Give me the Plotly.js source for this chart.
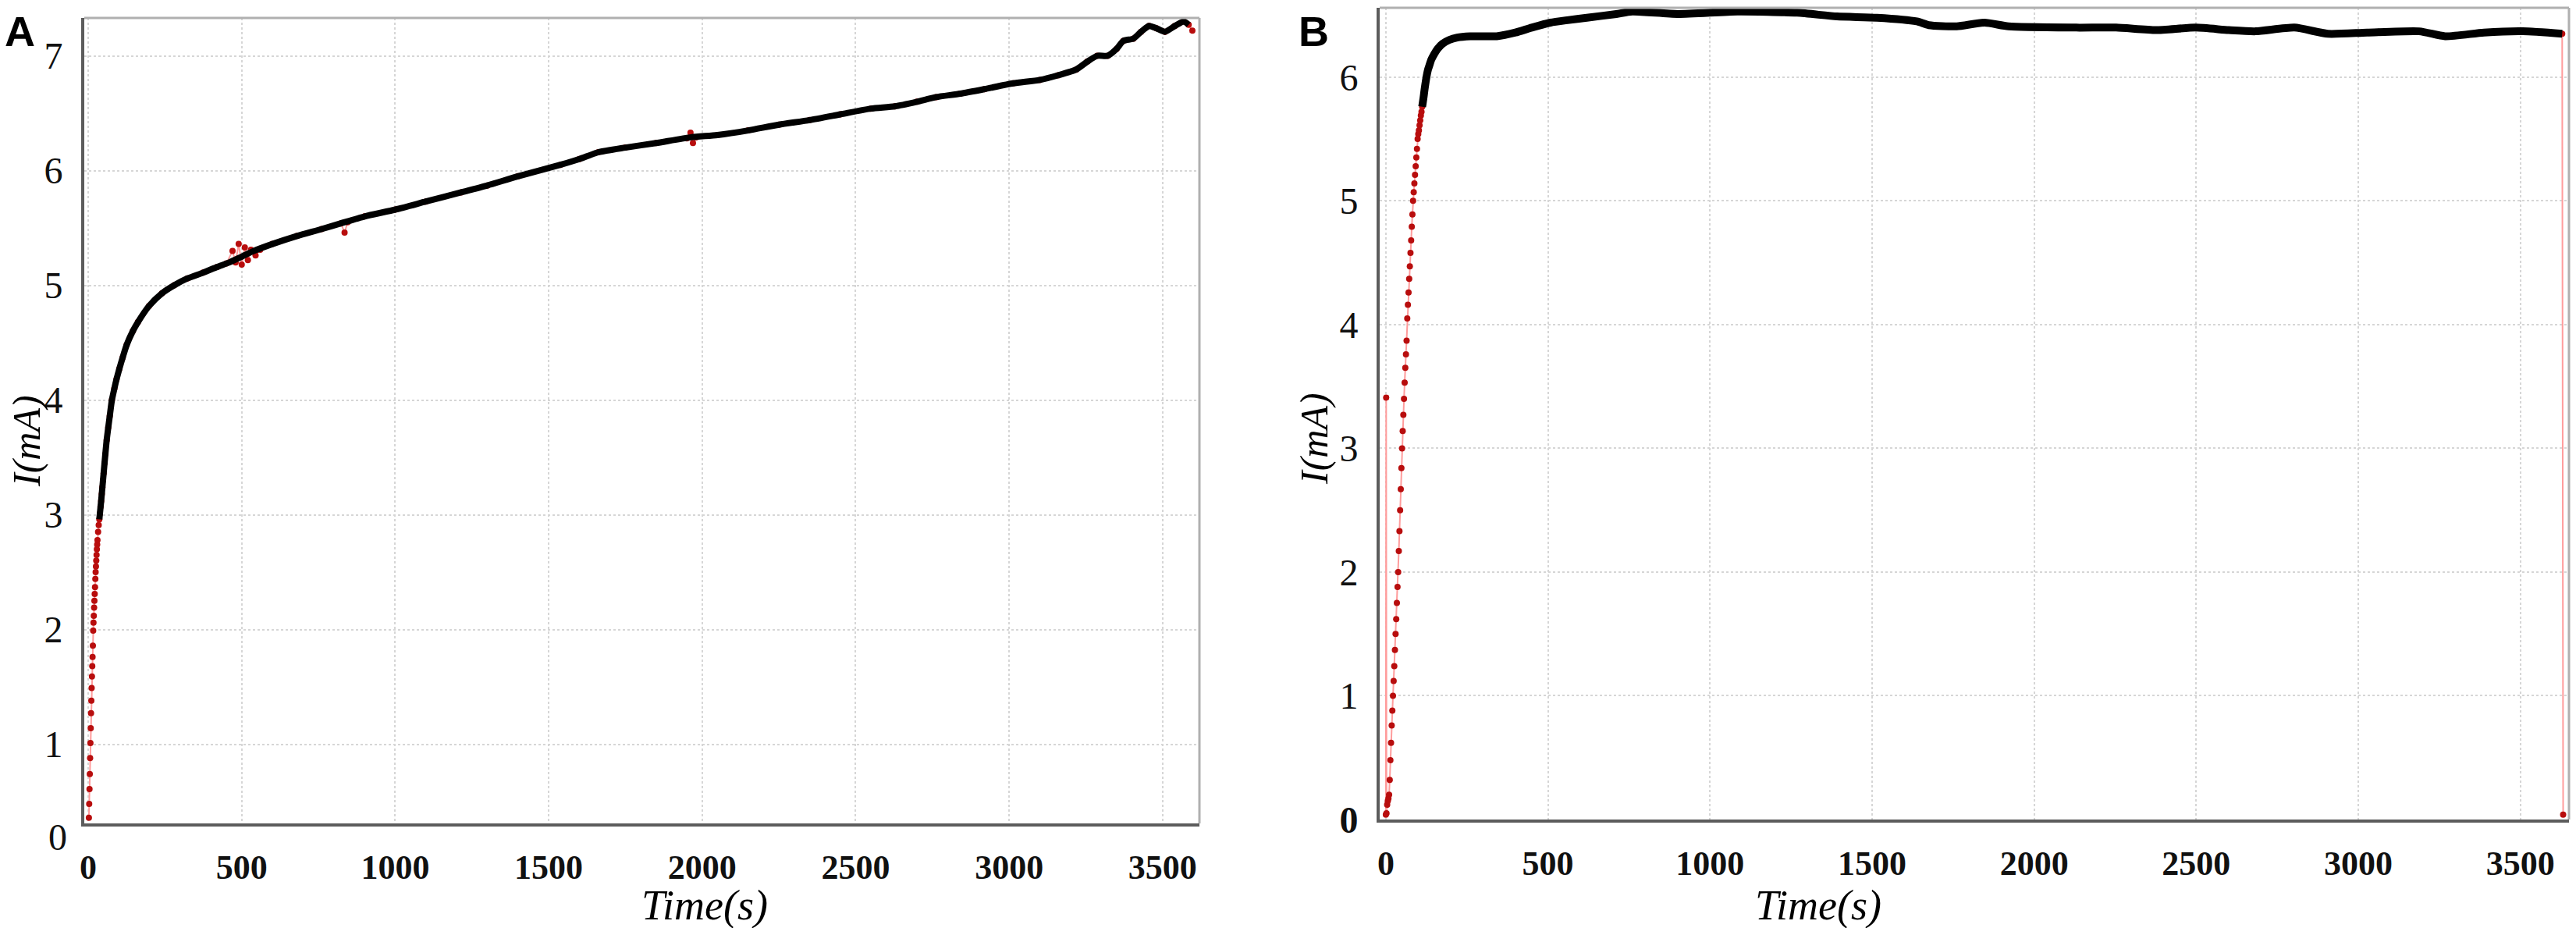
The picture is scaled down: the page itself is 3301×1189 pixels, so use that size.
<!DOCTYPE html>
<html>
<head>
<meta charset="utf-8">
<script src="https://cdn.plot.ly/plotly-3.0.1.min.js"></script>
<style>
  html, body { margin: 0; padding: 0; background: #fff; }
  #plot { width: 3301px; height: 1189px; }
</style>
</head>
<body>
<div id="plot"></div>
<script>
'use strict';

// panel A, raw samples (red dots)
const rawTimeA = [2, 3, 4, 5, 6, 7, 8, 9, 10, 11, 12, 13, 14, 15, 16, 17, 18, 19, 20, 21, 22, 23, 24, 25, 26, 27, 28, 29, 30,
  32, 34, 36, 38, 40, 42, 44, 46, 48, 50, 53, 56, 60, 65, 70, 77, 85, 92, 101, 112, 125, 145, 162, 198, 240, 280, 323, 374,
  420, 450, 470, 480, 490, 500, 510, 520, 530, 545, 560, 600, 680, 760, 823, 835, 845, 900, 1001, 1100, 1215, 1300, 1400,
  1538, 1600, 1662, 1750, 1850, 1950, 1962, 1970, 1980, 2050, 2150, 2250, 2350, 2450, 2550, 2628, 2700, 2762, 2841, 2920,
  3013, 3100, 3159, 3218, 3255, 3287, 3321, 3350, 3372, 3405, 3430, 3456, 3480, 3508, 3540, 3569, 3585, 3597];
const rawCurrentA = [0.36, 0.48, 0.61, 0.74, 0.88, 1.01, 1.14, 1.27, 1.38, 1.49, 1.59, 1.68, 1.76, 1.86, 1.99, 2.06, 2.12,
  2.19, 2.25, 2.31, 2.37, 2.44, 2.5, 2.55, 2.6, 2.65, 2.7, 2.74, 2.78, 2.85, 2.91, 2.96, 3.01, 3.07, 3.12, 3.18, 3.24, 3.3,
  3.36, 3.45, 3.53, 3.65, 3.76, 3.86, 4.0, 4.1, 4.18, 4.27, 4.37, 4.48, 4.6, 4.68, 4.82, 4.93, 5.0, 5.06, 5.11, 5.16, 5.19,
  5.3, 5.2, 5.36, 5.18, 5.33, 5.22, 5.31, 5.26, 5.31, 5.36, 5.43, 5.49, 5.54, 5.46, 5.55, 5.6, 5.66, 5.73, 5.81, 5.87, 5.95,
  6.05, 6.1, 6.16, 6.2, 6.24, 6.28, 6.33, 6.24, 6.29, 6.31, 6.35, 6.4, 6.44, 6.49, 6.54, 6.56, 6.6, 6.64, 6.67, 6.71, 6.76,
  6.79, 6.83, 6.88, 6.95, 7.0, 7.0, 7.06, 7.13, 7.15, 7.21, 7.26, 7.24, 7.21, 7.26, 7.3, 7.27, 7.22];

// panel A, smoothed trace (black)
const fitTimeA = [36, 42, 50, 60, 70, 77, 85, 92, 101, 112, 125, 145, 162, 198, 240, 280, 323, 374, 420, 460, 500, 540,
  600, 680, 760, 823, 900, 1001, 1100, 1215, 1300, 1400, 1538, 1600, 1662, 1750, 1850, 1964, 2050, 2150, 2250, 2350, 2450,
  2550, 2628, 2700, 2762, 2841, 2920, 3013, 3100, 3159, 3218, 3255, 3287, 3321, 3350, 3372, 3405, 3430, 3456, 3480, 3508,
  3540, 3569, 3585];
const fitCurrentA = [2.96, 3.12, 3.36, 3.65, 3.86, 4.0, 4.1, 4.18, 4.27, 4.37, 4.48, 4.6, 4.68, 4.82, 4.93, 5.0, 5.06,
  5.11, 5.16, 5.2, 5.25, 5.3, 5.36, 5.43, 5.49, 5.54, 5.6, 5.66, 5.73, 5.81, 5.87, 5.95, 6.05, 6.1, 6.16, 6.2, 6.24, 6.29,
  6.31, 6.35, 6.4, 6.44, 6.49, 6.54, 6.56, 6.6, 6.64, 6.67, 6.71, 6.76, 6.79, 6.83, 6.88, 6.95, 7.0, 7.0, 7.06, 7.13, 7.15,
  7.21, 7.26, 7.24, 7.21, 7.26, 7.3, 7.27];

// panel B, raw samples (red dots)
const rawTimeB = [0, 1, 2, 4, 6, 8, 10, 12, 14, 16, 18, 20, 22, 24, 26, 28, 30, 32, 34, 36, 38, 40, 42, 44, 46, 48, 50,
  52, 54, 56, 58, 60, 62, 64, 66, 68, 70, 72, 74, 76, 78, 80, 82, 84, 86, 88, 90, 92, 94, 96, 98, 100, 102, 104, 106, 108,
  110, 112, 114, 116, 118, 120, 122, 124, 126, 130, 135, 140, 150, 160, 175, 195, 220, 260, 300, 342, 400, 450, 508, 560,
  620, 711, 760, 900, 1085, 1269, 1392, 1515, 1638, 1675, 1761, 1847, 1921, 2130, 2253, 2376, 2499, 2600, 2683, 2803,
  2906, 3027, 3188, 3268, 3388, 3508, 3629, 3632];
const rawCurrentB = [0.04, 3.41, 0.05, 0.12, 0.15, 0.17, 0.2, 0.32, 0.48, 0.62, 0.76, 0.88, 1.0, 1.12, 1.24, 1.37, 1.5,
  1.62, 1.75, 1.88, 2.0, 2.17, 2.33, 2.5, 2.67, 2.84, 3.0, 3.14, 3.27, 3.4, 3.53, 3.65, 3.76, 3.87, 4.05, 4.16, 4.26, 4.37,
  4.47, 4.58, 4.68, 4.79, 4.89, 5.0, 5.07, 5.14, 5.21, 5.28, 5.35, 5.42, 5.5, 5.54, 5.57, 5.61, 5.65, 5.69, 5.72, 5.76,
  5.8, 5.83, 5.87, 5.91, 5.94, 5.98, 6.01, 6.06, 6.1, 6.14, 6.19, 6.23, 6.27, 6.3, 6.32, 6.33, 6.33, 6.33, 6.36, 6.4,
  6.44, 6.46, 6.48, 6.51, 6.53, 6.51, 6.53, 6.52, 6.49, 6.48, 6.45, 6.42, 6.41, 6.44, 6.41, 6.4, 6.4, 6.38, 6.4, 6.38,
  6.37, 6.4, 6.35, 6.36, 6.37, 6.33, 6.36, 6.37, 6.35, 0.04];

// panel B, smoothed trace (black)
const fitTimeB = [112, 116, 120, 126, 130, 135, 140, 150, 160, 175, 195, 220, 260, 300, 342, 400, 450,
  508, 560, 620, 711, 760, 900, 1085, 1269, 1392, 1515, 1638, 1675, 1761, 1847, 1921, 2130, 2253, 2376, 2499, 2600, 2683,
  2803, 2906, 3027, 3188, 3268, 3388, 3508, 3629];
const fitCurrentB = [5.76, 5.83, 5.91, 6.01, 6.06, 6.1, 6.14, 6.19, 6.23, 6.27, 6.3, 6.32, 6.33, 6.33,
  6.33, 6.36, 6.4, 6.44, 6.46, 6.48, 6.51, 6.53, 6.51, 6.53, 6.52, 6.49, 6.48, 6.45, 6.42, 6.41, 6.44, 6.41, 6.4, 6.4,
  6.38, 6.4, 6.38, 6.37, 6.4, 6.35, 6.36, 6.37, 6.33, 6.36, 6.37, 6.35];

const timeTicks = [0, 500, 1000, 1500, 2000, 2500, 3000, 3500];
const currentTicksA = [1, 2, 3, 4, 5, 6, 7];
const currentTicksB = [0, 1, 2, 3, 4, 5, 6];
const currentTickTextB = ['<b>0</b>', '1', '2', '3', '4', '5', '6'];

const W = 3301, H = 1189;
const serif = 'Liberation Serif';

function rawTrace(x, y, xa, ya) {
  return {
    type: 'scatter', mode: 'lines+markers', x: x, y: y, xaxis: xa, yaxis: ya,
    line: {color: '#ff9c9c', width: 2},
    marker: {color: '#b80d0d', size: 8}
  };
}

function fitTrace(x, y, xa, ya, w) {
  return {
    type: 'scatter', mode: 'lines', x: x, y: y, xaxis: xa, yaxis: ya,
    line: {color: '#000000', width: w, shape: 'spline', smoothing: 0.6}
  };
}

function xAxis(domain, range, anchor) {
  return {
    domain: domain, range: range, anchor: anchor,
    tickmode: 'array', tickvals: timeTicks,
    tickfont: {family: serif, size: 44, color: '#111', weight: 700},
    ticks: '', ticklabelstandoff: 14,
    showgrid: true, gridcolor: '#d6d6d6', griddash: 'dot', gridwidth: 1.5,
    showline: true, linecolor: '#5c5c5c', linewidth: 4,
    zeroline: false
  };
}

function yAxis(domain, range, anchor, vals, text) {
  let ax = {
    domain: domain, range: range, anchor: anchor,
    tickmode: 'array', tickvals: vals,
    tickfont: {family: serif, size: 48, color: '#111'},
    ticks: '', ticklabelstandoff: 14,
    showgrid: true, gridcolor: '#d6d6d6', griddash: 'dot', gridwidth: 1.5,
    showline: true, linecolor: '#5c5c5c', linewidth: 4,
    zeroline: false
  };
  if (text) ax.ticktext = text;
  return ax;
}

// light frame on top and right edges
function frameShapes(xa, ya) {
  let line = {color: '#b0b0b0', width: 3};
  return [
    {type: 'line', xref: xa + ' domain', yref: ya + ' domain', x0: 0, x1: 1, y0: 1, y1: 1, line: line},
    {type: 'line', xref: xa + ' domain', yref: ya + ' domain', x0: 1, x1: 1, y0: 0, y1: 1, line: line}
  ];
}

function label(text, px, py, opts) {
  return Object.assign({
    text: text, xref: 'paper', yref: 'paper', x: px / W, y: 1 - py / H,
    showarrow: false, xanchor: 'center', yanchor: 'middle',
    font: {family: serif, size: 54, color: '#000'}
  }, opts || {});
}

const data = [
  rawTrace(rawTimeA, rawCurrentA, 'x', 'y'),
  fitTrace(fitTimeA, fitCurrentA, 'x', 'y', 8),
  rawTrace(rawTimeB, rawCurrentB, 'x2', 'y2'),
  fitTrace(fitTimeB, fitCurrentB, 'x2', 'y2', 10)
];

const layout = {
  width: W, height: H,
  paper_bgcolor: '#ffffff', plot_bgcolor: '#ffffff',
  showlegend: false,
  margin: {l: 0, r: 0, t: 0, b: 0},
  xaxis: xAxis([108 / W, 1537 / W], [-13, 3620], 'y'),
  yaxis: yAxis([1 - 1055 / H, 1 - 23 / H], [0.31, 7.33], 'x', currentTicksA),
  xaxis2: xAxis([1768 / W, 3292 / W], [-19, 3650], 'y2'),
  yaxis2: yAxis([1 - 1050 / H, 1 - 10 / H], [0, 6.56], 'x2', currentTicksB, currentTickTextB),
  shapes: frameShapes('x', 'y').concat(frameShapes('x2', 'y2')),
  annotations: [
    label('<b>A</b>', 4, 8, {xanchor: 'left', yanchor: 'top',
      font: {family: 'Liberation Sans', size: 54, color: '#000'}}),
    label('<b>B</b>', 1662, 8, {xanchor: 'left', yanchor: 'top',
      font: {family: 'Liberation Sans', size: 54, color: '#000'}}),
    label('0', 74, 1072, {font: {family: serif, size: 48, color: '#111'}}),
    label('<i>I(mA)</i>', 34, 565, {textangle: -90, font: {family: serif, size: 50, color: '#000'}}),
    label('<i>I(mA)</i>', 1684, 562, {textangle: -90, font: {family: serif, size: 50, color: '#000'}}),
    label('<i>Time(s)</i>', 903, 1160, {yanchor: 'middle'}),
    label('<i>Time(s)</i>', 2330, 1160, {yanchor: 'middle'})
  ]
};

const config = {displayModeBar: false, responsive: false};

Plotly.newPlot('plot', data, layout, config);
</script>
</body>
</html>
